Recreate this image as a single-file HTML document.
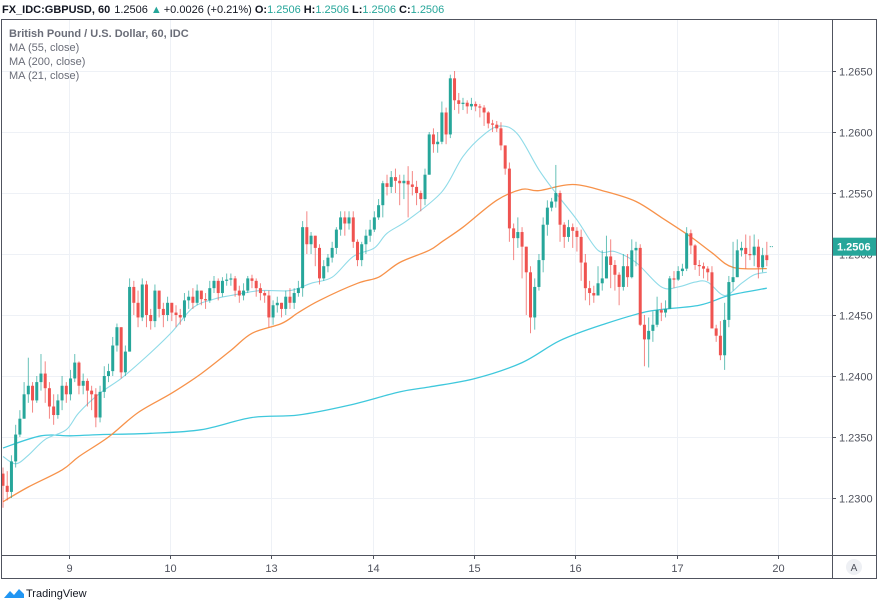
<!DOCTYPE html>
<html><head><meta charset="utf-8">
<style>
body{margin:0;background:#fff;width:878px;height:602px;overflow:hidden;font-family:"Liberation Sans",sans-serif;}
svg{position:absolute;left:0;top:0}
</style></head>
<body>
<svg id="chart" width="878" height="602">
  <rect x="0" y="0" width="878" height="602" fill="#fff"/>
  <g id="grid"></g>
  <g id="ma"></g>
  <g id="candles"></g>
  <g id="axes"></g>
  <rect x="1.5" y="19.5" width="875" height="559" fill="none" stroke="#50535e" stroke-width="1"/>
  <line x1="832.5" y1="19" x2="832.5" y2="579" stroke="#50535e"/>
  <line x1="1" y1="555.5" x2="877" y2="555.5" stroke="#50535e"/>
  <text x="2" y="13" font-size="11" fill="#131722"><tspan font-weight="bold">FX_IDC:GBPUSD, 60</tspan><tspan dx="4">1.2506</tspan><tspan dx="3" fill="#26a69a">▲</tspan><tspan dx="2">+0.0026 (+0.21%)</tspan><tspan dx="3" font-weight="bold">O:</tspan><tspan fill="#26a69a">1.2506</tspan><tspan dx="3" font-weight="bold">H:</tspan><tspan fill="#26a69a">1.2506</tspan><tspan dx="3" font-weight="bold">L:</tspan><tspan fill="#26a69a">1.2506</tspan><tspan dx="3" font-weight="bold">C:</tspan><tspan fill="#26a69a">1.2506</tspan></text>
  <text x="9" y="37" font-size="11" font-weight="bold" fill="#6a6d78">British Pound / U.S. Dollar, 60, IDC</text>
  <text x="9" y="51" font-size="11" fill="#6a6d78">MA (55, close)</text>
  <text x="9" y="65" font-size="11" fill="#6a6d78">MA (200, close)</text>
  <text x="9" y="79" font-size="11" fill="#6a6d78">MA (21, close)</text>
  <circle cx="854" cy="567" r="8" fill="#eef0f4"/>
  <text x="854" y="571" font-size="10" text-anchor="middle" fill="#50535e">A</text>
  <g>
    <path d="M4 598 L10 591 L14 595 L19 589 L24 594 L24 598 Z" fill="#2196f3"/>
    <text x="26" y="597" font-size="11" fill="#131722">TradingView</text>
  </g>
</svg>
<script>
const openFirst = 1.2320;
const closes = [1.2310,1.2305,1.2330,1.2352,1.2365,1.2385,1.2392,1.2380,1.2395,1.2402,
1.2390,1.2375,1.2368,1.2380,1.2392,1.2385,1.2398,1.2411,1.2392,1.2396,
1.2388,1.2385,1.2366,1.2387,1.2400,1.2404,1.2425,1.2440,1.2403,1.2420,
1.2473,1.2460,1.2448,1.2475,1.2450,1.2445,1.2470,1.2455,1.2450,1.2460,
1.2452,1.2450,1.2448,1.2462,1.2465,1.2460,1.2470,1.2463,1.2462,1.2472,
1.2478,1.2468,1.2478,1.2479,1.2480,1.2470,1.2466,1.2470,1.2480,1.2478,
1.2472,1.2468,1.2466,1.2448,1.2458,1.2460,1.2455,1.2465,1.2460,1.2468,
1.2472,1.2522,1.2508,1.2515,1.2505,1.2480,1.2490,1.2497,1.2505,1.2520,
1.2530,1.2525,1.2530,1.2510,1.2495,1.2508,1.2515,1.2520,1.2530,1.2540,
1.2558,1.2555,1.2563,1.2560,1.2558,1.2560,1.2557,1.2555,1.2550,1.2545,
1.2565,1.2598,1.2590,1.2592,1.2616,1.2598,1.2644,1.2626,1.2623,1.2624,
1.2621,1.2623,1.2621,1.2620,1.2616,1.2607,1.2606,1.2603,1.2589,1.2570,
1.2521,1.2513,1.2518,1.2506,1.2485,1.2448,1.2473,1.2495,1.2524,1.2538,
1.2543,1.2550,1.2524,1.2514,1.2522,1.2519,1.2514,1.2493,1.2472,1.2468,
1.2466,1.2476,1.2480,1.2498,1.2491,1.2483,1.2473,1.2490,1.2481,1.2503,
1.2505,1.2442,1.2430,1.2437,1.2442,1.2454,1.2452,1.2455,1.2480,1.2479,
1.2486,1.2488,1.2517,1.2507,1.2491,1.2490,1.2488,1.2485,1.2439,1.2433,
1.2417,1.2446,1.2477,1.2481,1.2503,1.2505,1.2500,1.2499,1.2506,1.2489,
1.2499,1.2495];
const highs = [1.2325,1.2322,1.2335,1.2360,1.2372,1.2395,1.2415,1.2395,1.2400,1.2418,
1.2412,1.2395,1.2385,1.2385,1.2400,1.2395,1.2405,1.2418,1.2412,1.2402,
1.2398,1.2392,1.2390,1.2392,1.2408,1.2410,1.2432,1.2443,1.2440,1.2425,
1.2480,1.2478,1.2470,1.2480,1.2478,1.2455,1.2475,1.2470,1.2460,1.2465,
1.2460,1.2458,1.2455,1.2468,1.2470,1.2472,1.2475,1.2470,1.2468,1.2478,
1.2482,1.2480,1.2481,1.2484,1.2484,1.2482,1.2474,1.2476,1.2482,1.2483,
1.2480,1.2476,1.2470,1.2470,1.2462,1.2465,1.2460,1.2470,1.2472,1.2472,
1.2478,1.2527,1.2535,1.2518,1.2512,1.2508,1.2495,1.2500,1.2510,1.2522,
1.2535,1.2535,1.2535,1.2535,1.2512,1.2510,1.2520,1.2528,1.2535,1.2545,
1.2560,1.2565,1.2568,1.2570,1.2565,1.2565,1.2572,1.2568,1.2560,1.2552,
1.2570,1.2600,1.2603,1.2600,1.2625,1.2620,1.2647,1.2650,1.2632,1.2628,
1.2626,1.2628,1.2625,1.2623,1.2622,1.2617,1.2610,1.2609,1.2608,1.2580,
1.2575,1.2525,1.2530,1.2522,1.2506,1.2490,1.2480,1.2500,1.2530,1.2544,
1.2546,1.2573,1.2552,1.2526,1.2528,1.2525,1.2522,1.2520,1.2500,1.2478,
1.2474,1.2490,1.2503,1.2515,1.2512,1.2495,1.2485,1.2500,1.2500,1.2512,
1.2510,1.2508,1.2450,1.2448,1.2453,1.2465,1.2460,1.2462,1.2482,1.2486,
1.2490,1.2492,1.2522,1.2520,1.2508,1.2495,1.2493,1.2490,1.2490,1.2442,
1.2445,1.2460,1.2482,1.2510,1.2512,1.2510,1.2516,1.2515,1.2516,1.2512,
1.2505,1.2510];
const lows = [1.2292,1.2298,1.2300,1.2325,1.2350,1.2368,1.2378,1.2370,1.2378,1.2388,
1.2378,1.2365,1.2360,1.2365,1.2372,1.2378,1.2380,1.2395,1.2385,1.2385,
1.2375,1.2372,1.2358,1.2362,1.2382,1.2395,1.2400,1.2420,1.2398,1.2400,
1.2420,1.2450,1.2440,1.2445,1.2440,1.2438,1.2440,1.2448,1.2440,1.2445,
1.2445,1.2440,1.2442,1.2445,1.2455,1.2455,1.2458,1.2458,1.2455,1.2460,
1.2468,1.2462,1.2465,1.2474,1.2474,1.2465,1.2460,1.2462,1.2468,1.2472,
1.2465,1.2462,1.2460,1.2440,1.2442,1.2452,1.2448,1.2450,1.2455,1.2455,
1.2465,1.2465,1.2500,1.2500,1.2490,1.2475,1.2478,1.2485,1.2493,1.2500,
1.2515,1.2515,1.2520,1.2505,1.2490,1.2490,1.2500,1.2510,1.2518,1.2528,
1.2530,1.2548,1.2550,1.2550,1.2540,1.2545,1.2530,1.2548,1.2540,1.2535,
1.2540,1.2565,1.2583,1.2583,1.2590,1.2590,1.2595,1.2618,1.2615,1.2618,
1.2615,1.2618,1.2617,1.2612,1.2605,1.2603,1.2600,1.2600,1.2585,1.2565,
1.2510,1.2495,1.2505,1.2480,1.2450,1.2435,1.2438,1.2470,1.2485,1.2515,
1.2535,1.2538,1.2510,1.2505,1.2510,1.2505,1.2502,1.2478,1.2462,1.2458,
1.2460,1.2466,1.2470,1.2480,1.2472,1.2470,1.2458,1.2470,1.2473,1.2480,
1.2490,1.2441,1.2408,1.2407,1.2428,1.2440,1.2445,1.2448,1.2455,1.2472,
1.2478,1.2482,1.2486,1.2500,1.2487,1.2482,1.2480,1.2478,1.2465,1.2428,
1.2413,1.2405,1.2440,1.2470,1.2495,1.2498,1.2488,1.2495,1.2490,1.2480,
1.2485,1.2490];
const ma200Idx = [0,9,16,23,35,47,59,70,82,94,101,112,123,132,142,153,165,172,181];
const ma200Val = [1.2341,1.2351,1.2351,1.2352,1.2353,1.2356,1.2366,1.2368,1.2376,1.2387,1.2391,1.2398,1.2411,1.2429,1.2442,1.2453,1.2458,1.2466,1.2472];
const ma55Idx = [0,6,14,18,25,32,40,47,54,59,66,70,75,84,89,94,101,104,109,117,123,127,135,143,150,156,163,168,173,181];
const ma55Val = [1.2297,1.2309,1.2323,1.2334,1.2350,1.2370,1.2386,1.2402,1.2421,1.2435,1.2443,1.2452,1.2462,1.2476,1.2481,1.2493,1.2503,1.2510,1.2522,1.2544,1.2553,1.2552,1.2557,1.2551,1.2543,1.2530,1.2514,1.2501,1.2489,1.2488];
const ma21Idx = [0,3,6,10,15,18,23,28,34,40,45,50,54,61,68,73,78,83,88,91,96,104,109,114,118,122,127,131,136,141,145,150,156,160,164,167,171,175,178,181];
const ma21Val = [1.2334,1.2328,1.2335,1.2348,1.2356,1.2370,1.2386,1.2398,1.2416,1.2436,1.2456,1.2463,1.2466,1.2470,1.2470,1.2476,1.2481,1.2498,1.2505,1.2517,1.2528,1.2551,1.2580,1.2598,1.2605,1.2598,1.2569,1.2550,1.2528,1.2503,1.2502,1.2493,1.2473,1.2473,1.2477,1.2477,1.2466,1.2476,1.2483,1.2485];
const priceTicks = [1.2300,1.2350,1.2400,1.2450,1.2500,1.2550,1.2600,1.2650];
const dayLabels = ["9","10","13","14","15","16","17","20"];
const dayBarIdx = [15.6,39.6,63.6,87.6,111.6,135.6,159.6,183.6];
const lastPrice = 1.2506;

const NS="http://www.w3.org/2000/svg";
function yScale(p){return 254-(p-1.25)*12200;}
function xScale(i){return 3+i*4.22;}
function mk(tag,attrs,parent){const e=document.createElementNS(NS,tag);for(const k in attrs)e.setAttribute(k,attrs[k]);parent.appendChild(e);return e;}
const grid=document.getElementById('grid'),axes=document.getElementById('axes'),cg=document.getElementById('candles'),mg=document.getElementById('ma');

priceTicks.forEach(p=>{
  const y=Math.round(yScale(p))+0.5;
  const l=mk('line',{x1:2,x2:832,y1:y,y2:y,stroke:'#eef1f6'},grid);
  
  
  const t=mk('line',{x1:832,x2:836,y1:y,y2:y,stroke:'#50535e'},axes);
  
  
  const tx=mk('text',{x:839,y:y+4,'font-size':11,fill:'#50535e'},axes);
  tx.textContent=p.toFixed(4);
  
  
});
dayLabels.forEach((d,k)=>{
  const x=Math.round(xScale(dayBarIdx[k]))+0.5;
  const l=mk('line',{x1:x,x2:x,y1:20,y2:555,stroke:'#eef1f6'},grid);
  
  
  const t=mk('line',{x1:x,x2:x,y1:555,y2:559,stroke:'#50535e'},axes);
  
  
  const tx=mk('text',{x:x,y:572,'font-size':11,fill:'#50535e','text-anchor':'middle'},axes);
  tx.textContent=d;
  
  
});

function drawMA(idx,val,color,w,name){
  const P=idx.map((i,k)=>[xScale(i),yScale(val[k])]);
  let d='M'+P[0][0].toFixed(1)+','+P[0][1].toFixed(1);
  for(let k=0;k<P.length-1;k++){
    const p0=P[Math.max(0,k-1)],p1=P[k],p2=P[k+1],p3=P[Math.min(P.length-1,k+2)];
    const c1x=p1[0]+(p2[0]-p0[0])/6,c1y=p1[1]+(p2[1]-p0[1])/6;
    const c2x=p2[0]-(p3[0]-p1[0])/6,c2y=p2[1]-(p3[1]-p1[1])/6;
    d+=' C'+c1x.toFixed(1)+','+c1y.toFixed(1)+' '+c2x.toFixed(1)+','+c2y.toFixed(1)+' '+p2[0].toFixed(1)+','+p2[1].toFixed(1);
  }
  const pl=mk('path',{d:d,fill:'none',stroke:color,'stroke-width':w,'stroke-linejoin':'round'},mg);
  
  
}
drawMA(ma200Idx,ma200Val,'#3fc8dc',1.3,'ma200-line');
drawMA(ma55Idx,ma55Val,'#f7924a',1.3,'ma55-line');
drawMA(ma21Idx,ma21Val,'#8fdbe8',1.1,'ma21-line');

closes.forEach((c,i)=>{
  const o=i===0?openFirst:closes[i-1];
  const up=c>=o;
  const col=up?'#26a69a':'#ef5350';
  const x=xScale(i);
  const hi=Math.max(highs[i],o,c),lo=Math.min(lows[i],o,c);
  const w=mk('line',{x1:x,x2:x,y1:yScale(hi),y2:yScale(lo),stroke:col,'stroke-width':1,'stroke-opacity':0.7},cg);
  
  
  const yt=yScale(Math.max(o,c)),yb=yScale(Math.min(o,c));
  const b=mk('rect',{x:x-1.5,y:yt,width:3,height:Math.max(1,yb-yt),fill:col},cg);
  
  
});

const ly=yScale(lastPrice);
const dl=mk('line',{x1:xScale(closes.length-1)+3,x2:xScale(closes.length-1)+7,y1:ly,y2:ly,stroke:'#26a69a','stroke-dasharray':'1,1'},axes);


const lb=mk('rect',{x:833,y:ly-9,width:44,height:18,fill:'#26a69a'},axes);


const lt=mk('text',{x:837,y:ly+4,'font-size':11,'font-weight':'bold',fill:'#fff'},axes);
lt.textContent=lastPrice.toFixed(4);


</script>
</body></html>
